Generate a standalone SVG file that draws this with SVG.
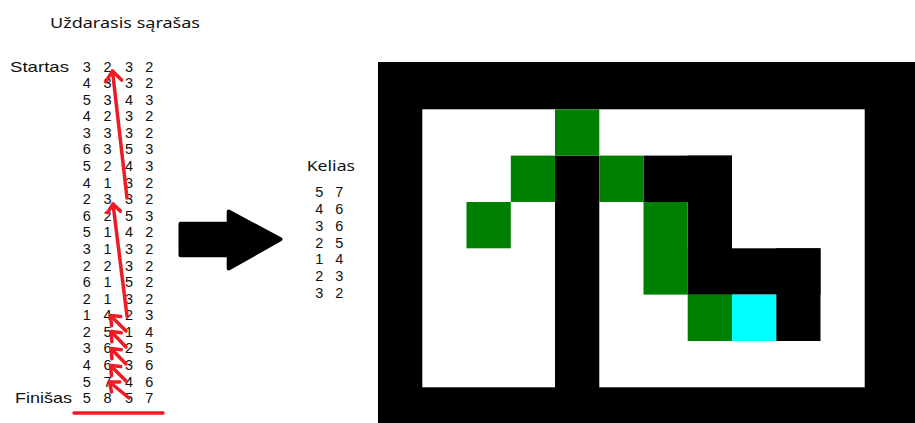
<svg xmlns="http://www.w3.org/2000/svg" width="915" height="423" viewBox="0 0 915 423">
<style>
.t{font-family:"Noto Sans","Open Sans","Liberation Sans",sans-serif;font-size:15px;fill:#111}
.l{font-family:"Liberation Sans","Noto Sans",sans-serif;font-size:15px;fill:#111}
.d{font-family:"Liberation Sans","Noto Sans",sans-serif;font-size:14.5px;fill:#111;text-anchor:middle}
.red{fill:none;stroke:#ed1c24;stroke-width:3.5;stroke-linecap:round;stroke-linejoin:round}
.blk{fill:#000}
.grn{fill:#008000}
</style>
<defs>
<marker id="ah" markerUnits="userSpaceOnUse" viewBox="-12 -10 14 20" refX="0" refY="0" markerWidth="14" markerHeight="20" orient="auto" overflow="visible">
<path d="M-10,-8 L0,0 L-10,8" fill="none" stroke="#ed1c24" stroke-width="3.5" stroke-linecap="round" stroke-linejoin="round"/>
</marker>
<marker id="ahs" markerUnits="userSpaceOnUse" viewBox="-12 -10 14 20" refX="0" refY="0" markerWidth="14" markerHeight="20" orient="auto" overflow="visible">
<path d="M-8,-6.5 L0,0 L-8,6.5" fill="none" stroke="#ed1c24" stroke-width="3.5" stroke-linecap="round" stroke-linejoin="round"/>
</marker>
</defs>
<rect width="915" height="423" fill="#fff"/>

<g id="title">
<text class="t" x="50" y="28.3" textLength="150" lengthAdjust="spacingAndGlyphs">Uždarasis sąrašas</text>
</g>

<g id="closed-list">
<text class="l" x="10" y="71.5" textLength="59" lengthAdjust="spacingAndGlyphs">Startas</text>
<text class="l" x="15" y="403.1" textLength="57" lengthAdjust="spacingAndGlyphs">Finišas</text>
<text class="d" x="86.7 97 107.5 118 129 139 149.2" y="71.5">3 2 3 2</text>
<text class="d" x="86.7 97 107.5 118 129 139 149.2" y="88.1">4 3 3 2</text>
<text class="d" x="86.7 97 107.5 118 129 139 149.2" y="104.7">5 3 4 3</text>
<text class="d" x="86.7 97 107.5 118 129 139 149.2" y="121.2">4 2 3 2</text>
<text class="d" x="86.7 97 107.5 118 129 139 149.2" y="137.8">3 3 3 2</text>
<text class="d" x="86.7 97 107.5 118 129 139 149.2" y="154.4">6 3 5 3</text>
<text class="d" x="86.7 97 107.5 118 129 139 149.2" y="171.0">5 2 4 3</text>
<text class="d" x="86.7 97 107.5 118 129 139 149.2" y="187.6">4 1 3 2</text>
<text class="d" x="86.7 97 107.5 118 129 139 149.2" y="204.1">2 3 3 2</text>
<text class="d" x="86.7 97 107.5 118 129 139 149.2" y="220.7">6 2 5 3</text>
<text class="d" x="86.7 97 107.5 118 129 139 149.2" y="237.3">5 1 4 2</text>
<text class="d" x="86.7 97 107.5 118 129 139 149.2" y="253.9">3 1 3 2</text>
<text class="d" x="86.7 97 107.5 118 129 139 149.2" y="270.5">2 2 3 2</text>
<text class="d" x="86.7 97 107.5 118 129 139 149.2" y="287.0">6 1 5 2</text>
<text class="d" x="86.7 97 107.5 118 129 139 149.2" y="303.6">2 1 3 2</text>
<text class="d" x="86.7 97 107.5 118 129 139 149.2" y="320.2">1 4 2 3</text>
<text class="d" x="86.7 97 107.5 118 129 139 149.2" y="336.8">2 5 1 4</text>
<text class="d" x="86.7 97 107.5 118 129 139 149.2" y="353.4">3 6 2 5</text>
<text class="d" x="86.7 97 107.5 118 129 139 149.2" y="369.9">4 6 3 6</text>
<text class="d" x="86.7 97 107.5 118 129 139 149.2" y="386.5">5 7 4 6</text>
<text class="d" x="86.7 97 107.5 118 129 139 149.2" y="403.1">5 8 5 7</text>
</g>

<g id="connectors">
<path class="red" d="M127,198 L112.5,71" marker-end="url(#ah)"/>
<path class="red" d="M127,316 L113,204" marker-end="url(#ahs)"/>
<path class="red" d="M126,331 L110.5,315.5" marker-end="url(#ahs)"/>
<path class="red" d="M126,347 L111,331.5" marker-end="url(#ahs)"/>
<path class="red" d="M126,364 L111,348.5" marker-end="url(#ahs)"/>
<path class="red" d="M126,381 L110.5,365.5" marker-end="url(#ahs)"/>
<path class="red" d="M129,398 L109.5,382" marker-end="url(#ahs)"/>
<path class="red" d="M74,413 L163,413" stroke-width="4.5"/>
</g>

<g id="big-arrow">
<path d="M180.5,223.7 L228.7,223.7 L228.7,211.5 L280.5,239.3 L228.7,268.5 L228.7,255.3 L180.5,255.3 Z" fill="#000" stroke="#000" stroke-width="4" stroke-linejoin="round"/>
</g>

<g id="path-list">
<text class="t" x="306.7" y="170.5" textLength="48.3" lengthAdjust="spacingAndGlyphs">Kelias</text>
<text class="d" x="319.3 329.3 339.3" y="196.7">5 7</text>
<text class="d" x="319.3 329.3 339.3" y="213.6">4 6</text>
<text class="d" x="319.3 329.3 339.3" y="230.6">3 6</text>
<text class="d" x="319.3 329.3 339.3" y="247.5">2 5</text>
<text class="d" x="319.3 329.3 339.3" y="264.4">1 4</text>
<text class="d" x="319.3 329.3 339.3" y="281.4">2 3</text>
<text class="d" x="319.3 329.3 339.3" y="298.3">3 2</text>
</g>

<g id="maze">
<rect class="blk" x="378" y="62" width="537" height="361"/>
<rect x="422.3" y="109.3" width="442.4" height="278" fill="#fff"/>
<rect class="blk" x="555" y="155.6" width="44.3" height="267.4"/>
<rect class="blk" x="643.5" y="155.6" width="88.5" height="46.4"/>
<rect class="blk" x="687.7" y="155.6" width="44.3" height="139"/>
<rect class="blk" x="687.7" y="248.3" width="132.8" height="46.3"/>
<rect class="blk" x="776.2" y="248.3" width="44.3" height="92.7"/>
<rect class="grn" x="555" y="109.3" width="44.3" height="46.3"/>
<rect class="grn" x="510.8" y="155.6" width="44.2" height="46.4"/>
<rect class="grn" x="466.5" y="202" width="44.3" height="46.3"/>
<rect class="grn" x="599.3" y="155.6" width="44.2" height="46.4"/>
<rect class="grn" x="643.5" y="202" width="44.2" height="92.6"/>
<rect class="grn" x="687.7" y="294.6" width="44.3" height="46.4"/>
<rect x="732" y="294.6" width="44.2" height="46.4" fill="#00ffff"/>
</g>
</svg>
